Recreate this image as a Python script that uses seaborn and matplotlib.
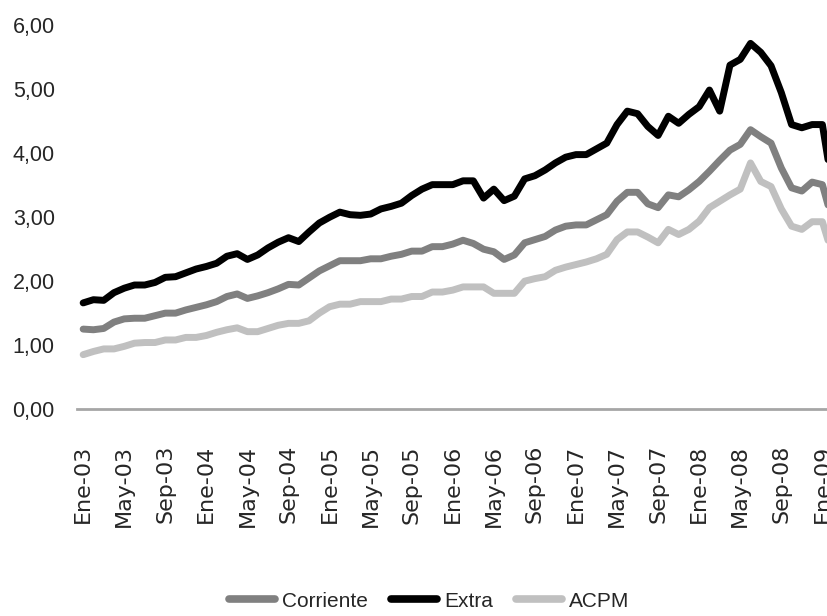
import numpy as np
import pandas as pd
import seaborn as sns
import matplotlib.pyplot as plt
from matplotlib.ticker import FuncFormatter

# precios mensuales, Ene-03 .. Feb-09
meses = ['Ene', 'Feb', 'Mar', 'Abr', 'May', 'Jun', 'Jul', 'Ago', 'Sep', 'Oct', 'Nov', 'Dic']
anios = ['03', '04', '05', '06', '07', '08', '09']

corriente = [1.25, 1.24, 1.26, 1.36, 1.41, 1.42, 1.42, 1.46, 1.50, 1.50, 1.55, 1.59,
             1.63, 1.68, 1.76, 1.80, 1.73, 1.77, 1.82, 1.88, 1.95, 1.94, 2.05, 2.16,
             2.24, 2.32, 2.32, 2.32, 2.35, 2.35, 2.39, 2.42, 2.47, 2.47, 2.54, 2.54,
             2.58, 2.64, 2.59, 2.50, 2.46, 2.34, 2.41, 2.60, 2.65, 2.70, 2.80, 2.86,
             2.88, 2.88, 2.96, 3.04, 3.25, 3.39, 3.39, 3.21, 3.15, 3.35, 3.32, 3.43,
             3.56, 3.72, 3.89, 4.05, 4.14, 4.37, 4.26, 4.16, 3.77, 3.46, 3.41, 3.55,
             3.51, 2.93]
extra = [1.66, 1.71, 1.70, 1.82, 1.89, 1.94, 1.94, 1.98, 2.06, 2.07, 2.13, 2.19,
         2.23, 2.28, 2.39, 2.43, 2.34, 2.41, 2.52, 2.61, 2.68, 2.62, 2.77, 2.91,
         3.00, 3.08, 3.04, 3.03, 3.05, 3.13, 3.17, 3.22, 3.34, 3.44, 3.51, 3.51,
         3.51, 3.57, 3.57, 3.30, 3.44, 3.26, 3.33, 3.60, 3.65, 3.74, 3.85, 3.94,
         3.98, 3.98, 4.07, 4.16, 4.45, 4.66, 4.62, 4.42, 4.28, 4.58, 4.47, 4.61,
         4.73, 4.99, 4.66, 5.38, 5.47, 5.72, 5.58, 5.37, 4.95, 4.45, 4.40, 4.45,
         4.45, 3.45]
acpm = [0.85, 0.90, 0.94, 0.94, 0.98, 1.03, 1.04, 1.04, 1.08, 1.08, 1.12, 1.12,
        1.15, 1.20, 1.24, 1.27, 1.21, 1.21, 1.26, 1.31, 1.34, 1.34, 1.38, 1.50,
        1.60, 1.64, 1.64, 1.68, 1.68, 1.68, 1.72, 1.72, 1.76, 1.76, 1.83, 1.83,
        1.86, 1.91, 1.91, 1.91, 1.81, 1.81, 1.81, 2.00, 2.04, 2.07, 2.17, 2.22,
        2.26, 2.30, 2.35, 2.42, 2.65, 2.77, 2.77, 2.69, 2.60, 2.81, 2.73, 2.81,
        2.94, 3.15, 3.25, 3.35, 3.44, 3.85, 3.56, 3.48, 3.13, 2.86, 2.81, 2.93,
        2.93, 2.40]

series = {'Corriente': corriente, 'Extra': extra, 'ACPM': acpm}
colores = {'Corriente': '#808080', 'Extra': '#000000', 'ACPM': '#c0c0c0'}


def build_frame():
    rows = []
    for name, vals in series.items():
        for i, v in enumerate(vals):
            rows.append({'mes': i, 'precio': v, 'tipo': name})
    return pd.DataFrame(rows)


def main():
    df = build_frame()
    sns.set_style('white')
    plt.rcParams['font.family'] = ['Liberation Sans', 'DejaVu Sans']

    fig = plt.figure(figsize=(8.27, 6.16), dpi=100)
    ax = fig.add_axes([77 / 827, 1 - 409 / 616, 1 - 77 / 827, 383.5 / 616])

    sns.lineplot(data=df, x='mes', y='precio', hue='tipo', palette=colores,
                 hue_order=list(series.keys()), linewidth=5, ax=ax)

    ax.set_ylim(0, 6)
    ax.set_xlim(-0.6, 72.45)
    ax.set_yticks(np.arange(0, 7, 1))
    ax.yaxis.set_major_formatter(FuncFormatter(lambda v, p: f'{v:.2f}'.replace('.', ',')))

    n = len(corriente)
    pos = list(range(0, n, 4))
    etiquetas = [f'{meses[i % 12]}-{anios[i // 12]}' for i in pos]
    ax.set_xticks(pos)
    ax.set_xticklabels(etiquetas, rotation=90, family='DejaVu Sans', fontsize=16)
    ax.tick_params(axis='x', length=0, pad=26)
    ax.tick_params(axis='y', length=0, pad=16, labelsize=15.5)

    for s in ['top', 'right', 'left']:
        ax.spines[s].set_visible(False)
    ax.spines['bottom'].set_color('#a6a6a6')
    ax.spines['bottom'].set_linewidth(2)
    ax.set_xlabel('')
    ax.set_ylabel('')

    handles, labels = ax.get_legend_handles_labels()
    ax.get_legend().remove()
    for h in handles:
        h.set_linewidth(5.5)
    fig.legend(handles, labels, loc='center', bbox_to_anchor=(0.519, 0.024),
               ncol=3, frameon=False, fontsize=15, handlelength=2.2,
               handletextpad=0.35, columnspacing=1.1)

    fig.savefig('out.png', dpi=100)


if __name__ == '__main__':
    main()
